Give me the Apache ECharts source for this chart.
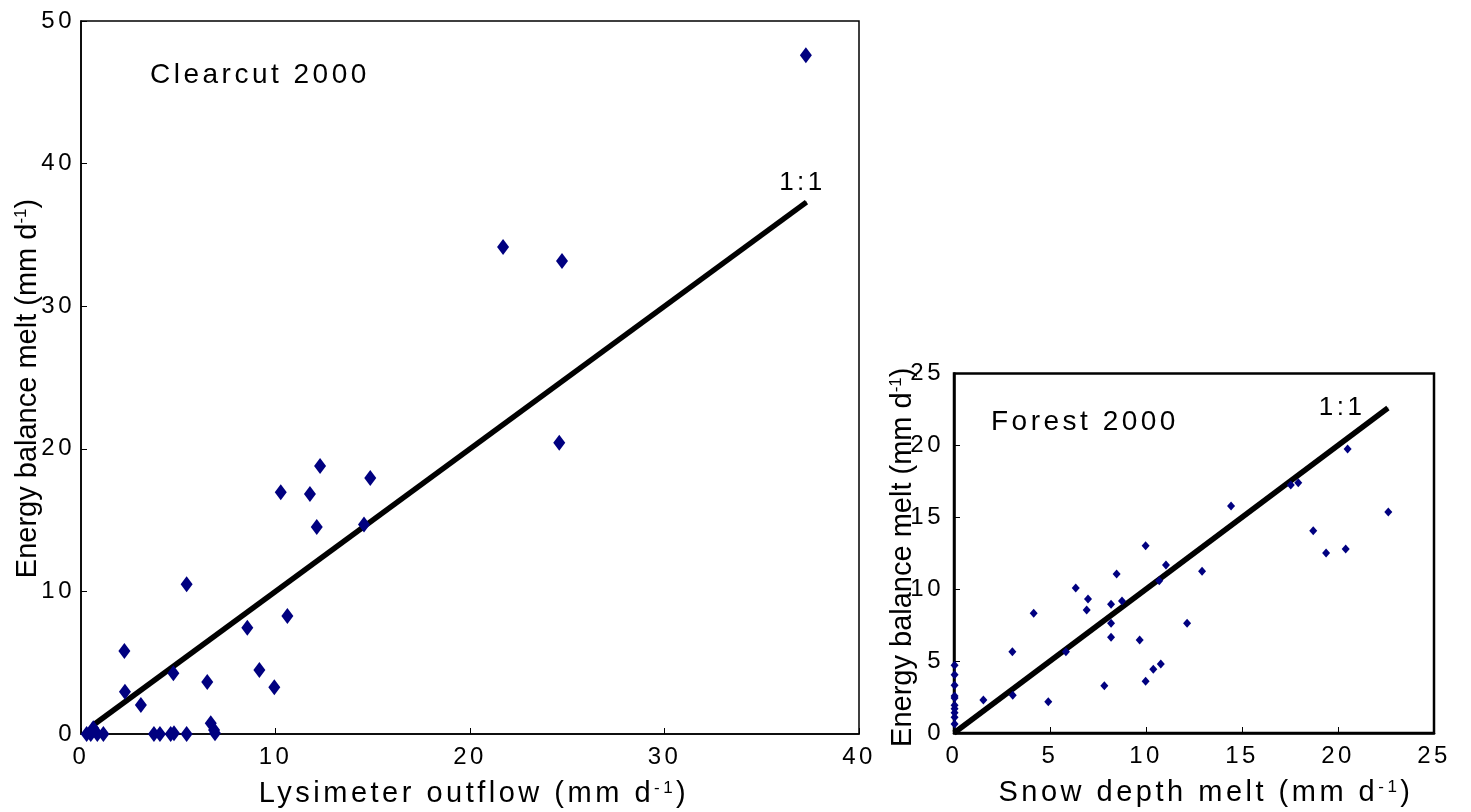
<!DOCTYPE html>
<html><head><meta charset="utf-8">
<script src="https://cdn.jsdelivr.net/npm/echarts@6/dist/echarts.min.js"></script>
<style>html,body{margin:0;padding:0;background:#fff}#c{width:1471px;height:812px}</style>
</head><body><div id="c"></div>
<script>
// ---- data ----
const clearcutOutflow = [37.27,21.7,24.73,24.59,12.29,14.87,10.27,11.77,12.12,14.55,5.43,10.61,8.55,2.23,9.17,4.75,6.49,9.94,2.26,3.08,6.67,6.84,6.89,0.29,0.5,0.63,0.84,1.15,3.75,4.06,4.61,4.78,5.43];
const clearcutMelt    = [47.6,34.15,33.17,20.43,18.79,17.95,16.95,16.83,14.52,14.7,10.5,8.27,7.45,5.82,4.49,4.26,3.65,3.27,2.97,2.03,0.75,0.28,0.05,0,0,0.4,0,0,0,0,0,0.05,0];
const forestSnowDepthMelt = [20.5,17.54,17.93,14.43,22.62,18.71,19.38,20.4,9.98,11.04,8.47,12.92,10.69,6.34,6.98,6.91,4.15,8.18,8.75,8.18,12.14,8.18,9.67,3.04,5.83,10.77,10.38,9.98,7.83,3.06,1.53,4.91,0.03,0.03,0.03,0.03,0.03,0.03,0.03,0.03,0.03,0.03];
const forestMelt          = [19.75,17.25,17.41,15.79,15.37,14.07,12.52,12.8,13.03,11.68,11.06,11.24,10.59,10.08,9.32,8.55,8.32,8.95,9.18,7.63,7.63,6.66,6.47,5.65,5.65,4.8,4.43,3.6,3.29,2.62,2.29,2.17,4.71,4.05,3.32,2.57,2.43,1.93,1.69,1.41,1.09,0.63];
const clearcutOneToOne = [0.6, 37.3];
const forestOneToOne   = [0, 22.6];
const clearcutXRange = [0, 40], clearcutXStep = 10;
const clearcutYRange = [0, 50], clearcutYStep = 10;
const forestRange = [0, 25], forestStep = 5;
const oneToOneLabel = '1:1';
const panelTitles = ['Clearcut 2000', 'Forest 2000'];

// wide letter spacing for the texts that use it in the reference (marked by the "Arial" family entry)
(function(){
  const P = CanvasRenderingContext2D.prototype;
  const f = P.fillText, m = P.measureText;
  function sp(ctx){ if ('letterSpacing' in ctx) ctx.letterSpacing = /Arial/.test(ctx.font) ? '3.5px' : '0px'; }
  P.fillText = function(){ sp(this); return f.apply(this, arguments); };
  P.measureText = function(){ sp(this); return m.apply(this, arguments); };
})();

const FF = 'Liberation Sans, Arial, sans-serif';   // spaced
const FN = 'Liberation Sans, sans-serif';          // not spaced
const zip = (a, b) => a.map((v, i) => [v, b[i]]);
function richName(fam, pad) {
  return { color:'#000', fontFamily: fam, padding: pad || 0, rich: {
    t: { fontSize: 29, fontFamily: fam, color: '#000' },
    s: { fontSize: 17, fontFamily: fam, color: '#000', verticalAlign: 'top' }
  }};
}
function valAxis(gi, range, step, name, gap, lw, nameStyle, labelMargin) {
  return {
    type: 'value', gridIndex: gi, min: range[0], max: range[1], interval: step,
    name: name, nameLocation: 'middle', nameGap: gap, nameMoveOverlap: false,
    nameTextStyle: nameStyle,
    axisLine: { show: true, lineStyle: { color: '#000', width: lw } },
    axisTick: { show: true, inside: true, length: 6, lineStyle: { color: '#000', width: 1 } },
    axisLabel: { color: '#000', fontSize: 24, fontFamily: FF, margin: labelMargin, hideOverlap: false },
    splitLine: { show: false }
  };
}
function lineData(ends, labelPos, labelDist, labelOffset) {
  return [
    [ends[0], ends[0]],
    { value: [ends[1], ends[1]], label: { show: true, formatter: oneToOneLabel, position: labelPos,
      distance: labelDist, offset: labelOffset, color: '#000', fontSize: 26, fontFamily: FF } }
  ];
}

const chart = echarts.init(document.getElementById('c'), null, { renderer: 'canvas' });
chart.setOption({
  backgroundColor: '#fff',
  animation: false,
  title: [
    { text: panelTitles[0], left: 145, top: 55, textStyle: { fontSize: 28, fontWeight: 'normal', color: '#000', fontFamily: FF } },
    { text: panelTitles[1], left: 986, top: 402, textStyle: { fontSize: 28, fontWeight: 'normal', color: '#000', fontFamily: FF } }
  ],
  grid: [
    { left: 81, top: 21, width: 778, height: 713, show: true, borderColor: '#000', borderWidth: 1.5, containLabel: false, outerBoundsMode: 'none' },
    { left: 954, top: 373.5, width: 480, height: 359.5, show: true, borderColor: '#000', borderWidth: 2.5, containLabel: false, outerBoundsMode: 'none' }
  ],
  xAxis: [
    valAxis(0, clearcutXRange, clearcutXStep, '{t|Lysimeter outflow (mm d}{s|-1}{t|)}', 44, 1.5, richName(FF, [0,0,0,8]), 10),
    valAxis(1, forestRange, forestStep, '{t|Snow depth melt (mm d}{s|-1}{t|)}', 44, 2.5, richName(FF, [0,0,0,24]), 10)
  ],
  yAxis: [
    valAxis(0, clearcutYRange, clearcutYStep, '{t|Energy balance melt (mm d}{s|-1}{t|)}', 39, 1.5, richName(FN, [0,22,0,0]), 6),
    valAxis(1, forestRange, forestStep, '{t|Energy balance melt (mm d}{s|-1}{t|)}', 37, 2.5, richName(FN, [0,8,0,0]), 10)
  ],
  series: [
    { type: 'line', xAxisIndex: 0, yAxisIndex: 0, data: lineData(clearcutOneToOne, 'top', 4, [-4, 0]),
      symbol: 'circle', symbolSize: 1, showSymbol: true, itemStyle: { color: '#000' },
      lineStyle: { color: '#000', width: 5.5 }, z: 2 },
    { type: 'scatter', xAxisIndex: 0, yAxisIndex: 0, data: zip(clearcutOutflow, clearcutMelt),
      symbol: 'diamond', symbolSize: [12, 16], itemStyle: { color: '#000080', opacity: 1 }, z: 3 },
    { type: 'line', xAxisIndex: 1, yAxisIndex: 1, data: lineData(forestOneToOne, 'left', 22, [0, 0]),
      symbol: 'circle', symbolSize: 1, showSymbol: true, itemStyle: { color: '#000' },
      lineStyle: { color: '#000', width: 5.5 }, z: 2 },
    { type: 'scatter', xAxisIndex: 1, yAxisIndex: 1, data: zip(forestSnowDepthMelt, forestMelt),
      symbol: 'diamond', symbolSize: [8, 9], itemStyle: { color: '#000080', opacity: 1 }, z: 3 }
  ]
});
</script>
</body></html>
